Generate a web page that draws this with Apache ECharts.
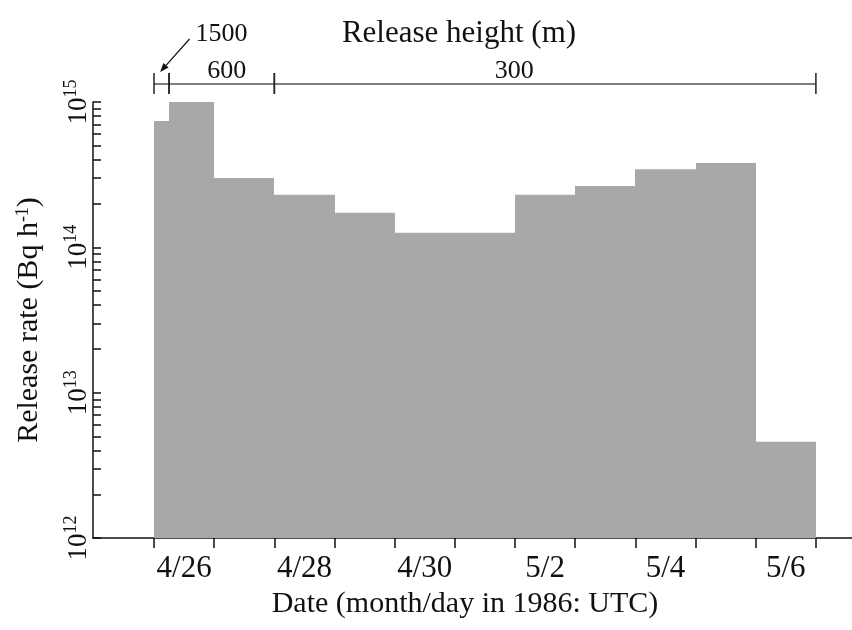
<!DOCTYPE html>
<html><head><meta charset="utf-8">
<script src="https://cdn.jsdelivr.net/npm/echarts@6/dist/echarts.min.js"></script>
<style>html,body{margin:0;padding:0;background:#fff}#c{width:852px;height:630px}</style>
</head><body><div id="c"></div>
<script>
// ---- data (x in days after 4/26 00:00 UTC) ----
const barStart    = [0, 0.25, 1, 2, 3, 4, 6, 7, 8, 9, 10];
const barEnd      = [0.25, 1, 2, 3, 4, 6, 7, 8, 9, 10, 11];
const releaseRate = [7.4e14, 1.0e15, 3.0e14, 2.3e14, 1.73e14, 1.26e14, 2.3e14, 2.64e14, 3.45e14, 3.8e14, 4.6e12];

const dayTicks      = [0, 1, 2, 3, 4, 5, 6, 7, 8, 9, 10, 11];
const dateLabels    = ['4/26', '4/28', '4/30', '5/2', '5/4', '5/6'];
const dateLabelDays = [0.5, 2.5, 4.5, 6.5, 8.5, 10.5];

const heightStart  = [0, 0.25, 2];
const heightEnd    = [0.25, 2, 11];
const heightLabels = ['1500', '600', '300'];

const yMin = 1e12, yMax = 1e15;
const yLabelValues = [1e12, 1e13, 1e14, 1e15];
const yTickValues = [];
for (let e = 12; e < 15; e++) for (let m = 1; m <= 9; m++) yTickValues.push(m * Math.pow(10, e));
yTickValues.push(1e15);

// ---- chart ----
const FONT = '"Liberation Serif", "Times New Roman", serif';
const INK = '#111';
const chart = echarts.init(document.getElementById('c'), null, {renderer: 'canvas'});

const barData = barStart.map((s, i) => [s, barEnd[i], releaseRate[i]]);
const bracketData = heightStart.map((s, i) => [s, heightEnd[i]]);
const bracketLabelDx = [0, 5, -31];
// keep end values strictly inside the log extent (floating-point guard)
const inside = v => Math.min(Math.max(v, yMin * (1 + 1e-12)), yMax * (1 - 1e-12));

const option = {
  animation: false,
  backgroundColor: '#fff',
  grid: [
    {left: 93, right: 0, top: 102, bottom: 92},
    {left: 93, right: 0, top: 70, height: 28}
  ],
  xAxis: [
    {
      type: 'value', gridIndex: 0, min: -1.014, max: 11.6,
      axisLine: {show: true, onZero: false, lineStyle: {color: INK, width: 1.5}},
      axisTick: {show: true, inside: false, length: 10, customValues: dayTicks, lineStyle: {color: INK, width: 1.5}},
      axisLabel: {
        customValues: dateLabelDays, margin: 15,
        fontFamily: FONT, fontSize: 31, color: INK,
        formatter: v => { const k = dateLabelDays.findIndex(d => Math.abs(d - v) < 1e-6); return k >= 0 ? dateLabels[k] : ''; }
      },
      splitLine: {show: false}
    },
    {type: 'value', gridIndex: 1, min: -1.014, max: 11.6, show: false}
  ],
  yAxis: [
    {
      type: 'log', logBase: 10, gridIndex: 0, min: yMin, max: yMax,
      axisLine: {show: true, onZero: false, lineStyle: {color: INK, width: 1.5}},
      axisTick: {show: true, inside: true, length: 8, customValues: yTickValues.map(inside), lineStyle: {color: INK, width: 1.5}},
      minorTick: {show: false},
      axisLabel: {
        customValues: yLabelValues.map(inside), rotate: 90, margin: 1,
        showMinLabel: true, showMaxLabel: true, hideOverlap: false,
        formatter: v => '{b|10}{s|' + Math.round(Math.log10(v)) + '}',
        rich: {
          b: {fontFamily: FONT, fontSize: 27, color: INK, verticalAlign: 'bottom', lineHeight: 30},
          s: {fontFamily: FONT, fontSize: 18, color: INK, verticalAlign: 'top', lineHeight: 30}
        }
      },
      splitLine: {show: false},
      z: 5
    },
    {type: 'value', gridIndex: 1, min: 0, max: 1, show: false}
  ],
  series: [
    {
      type: 'custom', xAxisIndex: 0, yAxisIndex: 0,
      encode: {x: [0, 1], y: 2},
      data: barData,
      renderItem: (params, api) => {
        const p0 = api.coord([api.value(0), api.value(2)]);
        const p1 = api.coord([api.value(1), yMin]);
        const x0 = Math.round(p0[0]), x1 = Math.round(p1[0]);
        return {
          type: 'rect',
          shape: {x: x0, y: p0[1], width: x1 - x0, height: p1[1] - p0[1]},
          style: {fill: '#a8a8a8'}
        };
      },
      z: 1
    },
    {
      type: 'custom', xAxisIndex: 1, yAxisIndex: 1,
      encode: {x: [0, 1]},
      data: bracketData,
      renderItem: (params, api) => {
        const i = params.dataIndex;
        const a = api.coord([api.value(0), 0.5]);
        const b = api.coord([api.value(1), 0.5]);
        const y = a[1];
        const children = [
          {type: 'line', shape: {x1: a[0], y1: y, x2: b[0], y2: y}, style: {stroke: '#555', lineWidth: 1.5}},
          {type: 'line', shape: {x1: a[0], y1: y - 11, x2: a[0], y2: y + 10}, style: {stroke: '#222', lineWidth: 1.5}},
          {type: 'line', shape: {x1: b[0], y1: y - 11, x2: b[0], y2: y + 10}, style: {stroke: '#222', lineWidth: 1.5}}
        ];
        const mid = (a[0] + b[0]) / 2;
        const txt = {fontFamily: FONT, fontSize: 26, fill: INK, align: 'center', verticalAlign: 'middle'};
        if (b[0] - a[0] < 40) {
          const x1 = mid + 28, y1 = y - 45, x2 = mid - 1.5, y2 = y - 12;
          const ang = Math.atan2(y2 - y1, x2 - x1);
          const hl = 9, hw = 3.5;
          const bx = x2 - hl * Math.cos(ang), by = y2 - hl * Math.sin(ang);
          children.push(
            {type: 'line', shape: {x1: x1, y1: y1, x2: bx, y2: by}, style: {stroke: INK, lineWidth: 1.2}},
            {type: 'polygon', shape: {points: [[x2, y2],
              [bx + hw * Math.sin(ang), by - hw * Math.cos(ang)],
              [bx - hw * Math.sin(ang), by + hw * Math.cos(ang)]]}, style: {fill: INK}},
            {type: 'text', x: mid + 60, y: y - 50, style: Object.assign({text: heightLabels[i]}, txt)}
          );
        } else {
          children.push({type: 'text', x: mid + bracketLabelDx[i], y: y - 13, style: Object.assign({text: heightLabels[i]}, txt)});
        }
        return {type: 'group', children: children};
      },
      z: 3
    }
  ],
  graphic: [
    {type: 'text', x: 459, y: 34, style: {text: 'Release height (m)', fontFamily: FONT, fontSize: 31, fill: INK, align: 'center', verticalAlign: 'middle'}},
    {type: 'text', x: 465, y: 604, style: {text: 'Date (month/day in 1986: UTC)', fontFamily: FONT, fontSize: 30, fill: INK, align: 'center', verticalAlign: 'middle'}},
    {type: 'text', x: 29, y: 320, rotation: Math.PI / 2,
      style: {text: 'Release rate (Bq h{s|-1})', fontFamily: FONT, fontSize: 30, fill: INK, align: 'center', verticalAlign: 'middle',
        rich: {s: {fontFamily: FONT, fontSize: 18, fill: INK, verticalAlign: 'top'}}}}
  ]
};
chart.setOption(option);
</script>
</body></html>
